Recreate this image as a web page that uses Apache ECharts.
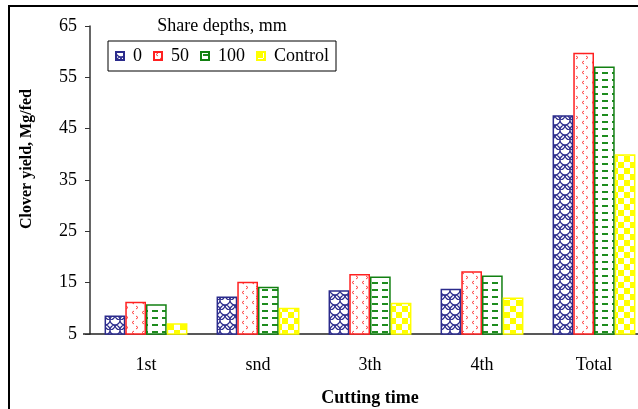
<!DOCTYPE html>
<html>
<head>
<meta charset="utf-8">
<script src="https://cdn.jsdelivr.net/npm/echarts@6/dist/echarts.min.js"></script>
<style>
html,body{margin:0;padding:0;background:#fff;}
#chart{width:638px;height:409px;}
</style>
</head>
<body>
<div id="chart"></div>
<script>
var categories = ['1st', 'snd', '3th', '4th', 'Total'];
var seriesNames = ['0', '50', '100', 'Control'];
var depth0 = [8.6, 12.3, 13.5, 13.8, 47.6];
var depth50 = [11.3, 15.2, 16.7, 17.2, 59.8];
var depth100 = [10.8, 14.2, 16.2, 16.4, 57.1];
var control = [7.1, 10.1, 11.1, 12.1, 40.0];
var yTicks = {min: 5, max: 65, interval: 10};

var FONT = 'Liberation Serif';

function makeTile(w, h, draw) {
  var c = document.createElement('canvas');
  c.width = w; c.height = h;
  var ctx = c.getContext('2d');
  ctx.fillStyle = '#ffffff';
  ctx.fillRect(0, 0, w, h);
  draw(ctx);
  return {image: c, repeat: 'repeat'};
}

var bluePat = makeTile(10, 10, function (ctx) {
  ctx.strokeStyle = '#2b2b8c';
  ctx.lineWidth = 1.2;
  ctx.beginPath(); ctx.arc(5, 0, 5, 0, Math.PI); ctx.stroke();
  ctx.beginPath(); ctx.arc(0, 5, 5, 0, Math.PI); ctx.stroke();
  ctx.beginPath(); ctx.arc(10, 5, 5, 0, Math.PI); ctx.stroke();
  ctx.beginPath(); ctx.arc(5, 10, 5, Math.PI, 2 * Math.PI); ctx.stroke();
});
var redPat = makeTile(10, 10, function (ctx) {
  ctx.strokeStyle = '#ff4040';
  ctx.lineWidth = 1;
  ctx.beginPath(); ctx.moveTo(4, 1); ctx.lineTo(2, 2.5); ctx.lineTo(4, 4); ctx.stroke();
  ctx.beginPath(); ctx.moveTo(6, 6); ctx.lineTo(8, 7.5); ctx.lineTo(6, 9); ctx.stroke();
});
var greenPat = makeTile(10, 7, function (ctx) {
  ctx.fillStyle = '#1e8c1e';
  ctx.fillRect(2, 2, 6, 2);
});
var yellowPat = makeTile(12, 12, function (ctx) {
  ctx.fillStyle = '#ffff00';
  ctx.fillRect(0, 0, 6, 6);
  ctx.fillRect(6, 6, 6, 6);
});

var patterns = [bluePat, redPat, greenPat, yellowPat];
var borders = ['#2b2b8c', '#ff2020', '#128012', '#ffff00'];
var values = [depth0, depth50, depth100, control];

var series = seriesNames.map(function (name, i) {
  return {
    name: name,
    type: 'bar',
    data: values[i],
    barGap: '0%',
    barCategoryGap: '26%',
    itemStyle: {color: patterns[i], borderColor: borders[i], borderWidth: 1.5},
    emphasis: {disabled: true}
  };
});

var chart = echarts.init(document.getElementById('chart'), null, {renderer: 'canvas'});
chart.setOption({
  animation: false,
  backgroundColor: '#ffffff',
  grid: {left: 90, width: 560, top: 26, height: 308, containLabel: false, outerBoundsMode: 'none'},
  legend: {
    data: seriesNames,
    left: 108,
    top: 41,
    orient: 'horizontal',
    icon: 'rect',
    itemWidth: 8,
    itemHeight: 8,
    itemGap: 11,
    padding: [6, 7, 6, 7],
    borderColor: '#000',
    borderWidth: 1,
    textStyle: {fontFamily: FONT, fontSize: 18, color: '#000', padding: [0, 0, 0, 4]}
  },
  xAxis: {
    type: 'category',
    data: categories,
    name: 'Cutting time',
    nameLocation: 'middle',
    nameGap: 55,
    nameTextStyle: {fontFamily: FONT, fontSize: 18, fontWeight: 'bold', color: '#000'},
    axisLine: {lineStyle: {color: '#222', width: 1.5}},
    axisTick: {length: 5, lineStyle: {color: '#444'}},
    axisLabel: {fontFamily: FONT, fontSize: 18, color: '#000', margin: 22}
  },
  yAxis: {
    type: 'value',
    min: yTicks.min,
    max: yTicks.max,
    interval: yTicks.interval,
    axisLine: {show: true, lineStyle: {color: '#333', width: 1.5}},
    axisTick: {show: true, length: 5, lineStyle: {color: '#333'}},
    splitLine: {show: false},
    axisLabel: {fontFamily: FONT, fontSize: 18, color: '#000', margin: 13}
  },
  graphic: [
    {
      type: 'rect',
      shape: {x: 9, y: 6, width: 700, height: 500},
      style: {fill: 'none', stroke: '#000', lineWidth: 2},
      silent: true
    },
    {
      type: 'line',
      shape: {x1: 83, y1: 334, x2: 90, y2: 334},
      style: {stroke: '#222', lineWidth: 1.5},
      silent: true
    },
    {
      type: 'text',
      x: 27, y: 159,
      rotation: Math.PI / 2,
      style: {text: 'Clover yield, Mg/fed', font: 'bold 16px "Liberation Serif"', fill: '#000', align: 'center', verticalAlign: 'middle'},
      silent: true
    },
    {
      type: 'text',
      x: 222, y: 26,
      style: {text: 'Share depths, mm', font: '18px "Liberation Serif"', fill: '#000', align: 'center', verticalAlign: 'middle'},
      silent: true
    }
  ],
  series: series
});
</script>
</body>
</html>
